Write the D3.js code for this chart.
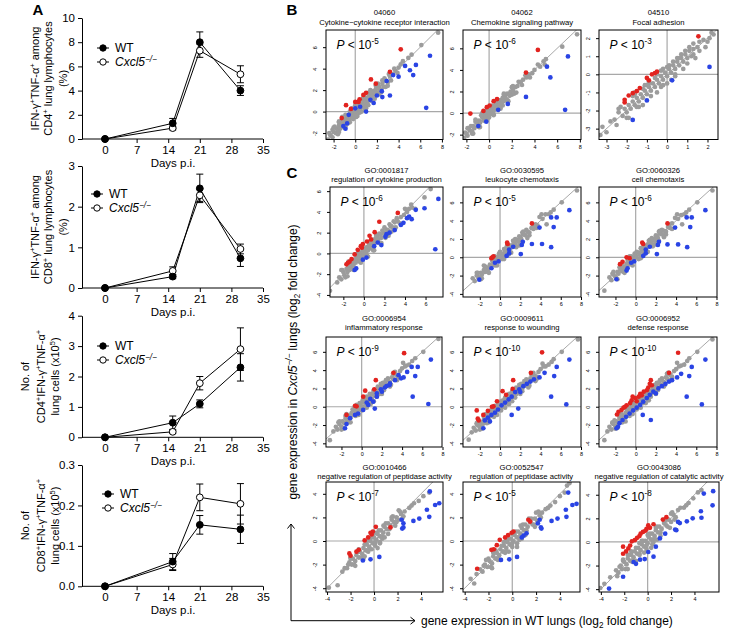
<!DOCTYPE html>
<html>
<head>
<meta charset="utf-8">
<script src="https://cdn.jsdelivr.net/npm/d3@7"></script>
<style>
  body { margin: 0; background: #fff; }
  svg { font-family: "Liberation Sans", Arial, sans-serif; }
</style>
</head>
<body>
<svg id="fig" width="734" height="632"></svg>
<script>
// ---------- panel A data (days p.i.) ----------
const days = [0, 15, 21, 30];
const xTicksA = [0, 7, 14, 21, 28, 35];

const cd4PctWT = [0, 1.3, 8.0, 4.0],      cd4PctWTErr = [0, 0.4, 0.85, 0.4];
const cd4PctKO = [0, 0.9, 7.3, 5.35],     cd4PctKOErr = [0, 0.15, 0.55, 0.7];
const cd8PctWT = [0, 0.28, 2.45, 0.73],   cd8PctWTErr = [0, 0.05, 0.35, 0.2];
const cd8PctKO = [0, 0.42, 2.28, 0.96],   cd8PctKOErr = [0, 0.1, 0.15, 0.12];
const cd4NumWT = [0, 0.48, 1.1, 2.3],     cd4NumWTErr = [0, 0.22, 0.13, 0.45];
const cd4NumKO = [0, 0.18, 1.78, 2.9],    cd4NumKOErr = [0, 0.05, 0.22, 0.7];
const cd8NumWT = [0, 0.061, 0.152, 0.141], cd8NumWTErr = [0, 0.02, 0.023, 0.035];
const cd8NumKO = [0, 0.054, 0.22, 0.204],  cd8NumKOErr = [0, 0.015, 0.033, 0.05];

// ---------- panel B/C data: [WT log2FC, Cxcl5-/- log2FC] ----------
const b1Gray = [[-2.5,-2.6],[-2.3,-2.2],[-2.1,-2.4],[-2.0,-1.9],[-1.8,-2.0],[-1.7,-1.6],[-1.6,-1.8],[-1.5,-1.3],[-1.4,-1.6],[-1.3,-1.1],[-1.2,-1.4],[-1.1,-0.9],[-1.0,-1.2],[-0.9,-0.7],[-0.8,-1.0],[-0.7,-0.5],[-0.6,-0.8],[-0.5,-0.3],[-0.4,-0.6],[-0.3,-0.1],[-0.2,-0.4],[-0.1,0.1],[0.0,-0.2],[0.1,0.3],[0.2,0.0],[0.3,0.5],[0.4,0.2],[0.5,0.7],[0.6,0.4],[0.7,0.9],[0.8,0.6],[0.9,1.1],[1.0,0.8],[1.1,1.3],[1.2,1.0],[1.3,1.5],[1.4,1.2],[1.5,1.7],[1.6,1.4],[1.7,1.9],[1.8,1.6],[1.9,2.1],[2.0,1.8],[2.2,2.3],[2.3,2.0],[2.5,2.6],[2.6,2.3],[2.8,2.9],[3.0,2.7],[3.2,3.3],[3.4,3.5],[3.7,3.8],[4.0,4.1],[4.2,4.4],[4.4,4.7],[4.9,5.0],[5.2,5.3],[6.1,6.2],[7.65,7.35],[-0.4,0.1],[0.6,1.0],[1.4,1.8],[2.1,2.6],[-1.5,-1.0],[0.2,-0.4],[1.0,0.5],[-2.1,-1.7],
  [-1.9,-1.4],[-1.6,-2.1],[-1.2,-0.7],[-0.9,-1.4],[-0.5,0.0],[-0.2,-0.7],[0.1,0.6],[0.4,-0.1],[0.7,1.2],[1.0,0.3],[1.3,1.8],[1.6,1.0],[1.9,2.4],[2.2,1.6],[2.5,2.9],[2.8,2.3],[3.1,3.5],[3.3,2.9],[3.6,4.0],[3.9,3.6],[-2.4,-2.0],[-0.7,-1.1],[0.5,0.0],[1.5,1.0],[2.4,2.0]];
const b1GrayEdge = [[-2.0,-1.5],[-1.5,-1.9],[-1.5,-0.9],[-1.0,-1.5],[-0.9,-0.3],[-0.5,-1.0],[-0.3,0.3],[0.1,-0.5],[0.3,0.8],[0.6,0.0],[0.8,1.4],[1.2,0.6],[1.4,2.0],[1.8,1.2],[2.0,2.5],[2.4,1.8],[2.7,3.1],[3.0,2.4],[-1.2,-0.5],[0.0,0.6],[0.9,0.2],[1.9,2.5]];
const b1Red = [[4.2,5.8],[3.2,3.7],[1.45,3.0],[1.9,2.6],[0.75,1.55],[0.0,0.9],[0.3,0.9],[-0.4,0.25],[-0.85,0.6],[-1.25,-0.6],[0.4,1.15],[1.0,1.75]];
const b1Blue = [[6.9,5.2],[5.6,4.35],[5.05,3.85],[4.6,4.25],[5.35,3.4],[4.0,3.25],[3.5,3.4],[2.9,2.85],[2.45,1.9],[2.0,1.5],[2.5,1.35],[3.2,1.5],[1.4,1.1],[1.7,0.8],[1.0,0.0],[0.45,0.45],[0.0,0.3],[-0.6,-0.3],[-0.9,-1.6],[-1.1,-1.35],[-0.75,-1.1],[6.55,0.35]];

const b2Gray = [[-2.2,-2.3],[-2.0,-1.9],[-1.9,-2.1],[-1.7,-1.6],[-1.5,-1.7],[-1.4,-1.2],[-1.3,-1.4],[-1.1,-0.9],[-1.0,-1.2],[-0.9,-0.7],[-0.8,-0.9],[-0.6,-0.4],[-0.5,-0.7],[-0.4,-0.2],[-0.3,-0.4],[-0.2,0.0],[-0.1,-0.3],[0.0,0.2],[0.1,-0.1],[0.2,0.4],[0.3,0.1],[0.4,0.6],[0.5,0.3],[0.6,0.8],[0.7,0.5],[0.8,1.0],[0.9,0.7],[1.0,1.2],[1.1,0.9],[1.2,1.4],[1.3,1.1],[1.4,1.6],[1.5,1.3],[1.6,1.8],[1.8,1.6],[1.9,2.0],[2.1,2.1],[2.3,2.4],[2.5,2.5],[2.8,2.9],[3.0,3.1],[3.3,3.3],[3.5,3.6],[3.8,3.7],[4.0,4.0],[4.3,4.5],[4.5,4.3],[4.9,4.5],[4.8,4.8],[5.0,5.0],[6.45,6.15],[7.75,7.3],[-0.7,-0.2],[0.3,0.7],[1.2,0.7],[2.0,1.7],[-1.6,-1.2],
  [-1.8,-1.4],[-1.5,-1.9],[-1.2,-0.8],[-0.9,-1.3],[-0.5,0.1],[-0.2,-0.6],[0.1,0.6],[0.4,-0.1],[0.7,1.1],[1.0,0.5],[1.3,1.7],[1.6,1.2],[2.0,2.4],[2.2,1.8],[2.6,2.9],[2.9,2.6],[3.2,3.5],[3.6,3.3],[-2.1,-1.8],[0.0,-0.4]];
const b2GrayEdge = [[-1.9,-1.4],[-1.4,-1.9],[-1.2,-0.6],[-0.8,-1.3],[-0.6,0.0],[-0.2,-0.7],[0.0,0.6],[0.4,-0.2],[0.6,1.1],[1.0,0.4],[1.3,1.8],[1.7,1.1],[2.1,2.5],[2.4,1.9],[-0.3,0.2],[0.8,0.3]];
const b2Red = [[4.3,5.85],[3.25,3.75],[0.7,1.3],[0.4,1.1],[0.05,0.7],[-0.2,0.55],[-1.65,-0.05],[-0.5,0.2]];
const b2Blue = [[6.95,5.25],[5.1,4.3],[5.4,3.3],[3.25,1.5],[1.65,0.85],[0.8,0.3],[6.7,0.3],[-0.25,-0.8],[-0.95,-1.2]];

const b3Gray = [[-3.3,-3.35],[-3.2,-2.9],[-3.0,-3.2],[-2.6,-2.5],[-2.4,-2.1],[-2.2,-2.3],[-2.1,-1.9],[-2.0,-2.1],[-1.9,-1.7],[-1.8,-1.9],[-1.7,-1.5],[-1.6,-1.7],[-1.5,-1.3],[-1.4,-1.5],[-1.3,-1.1],[-1.2,-1.3],[-1.1,-0.9],[-1.0,-1.1],[-0.9,-0.7],[-0.8,-0.9],[-0.7,-0.5],[-0.6,-0.7],[-0.5,-0.3],[-0.4,-0.5],[-0.3,-0.1],[-0.2,-0.3],[-0.1,0.1],[0.0,-0.1],[0.1,0.3],[0.2,0.1],[0.3,0.5],[0.4,0.3],[0.5,0.7],[0.6,0.5],[0.7,0.9],[0.8,0.7],[0.9,1.1],[1.0,0.9],[1.1,1.3],[1.2,1.0],[1.3,1.4],[1.5,1.5],[1.6,1.3],[1.8,1.9],[2.0,1.8],[2.2,2.3],[2.3,2.2],[-1.2,-0.8],[-0.6,-0.2],[0.0,0.4],[0.6,0.9],[-1.5,-1.8],[-0.3,-0.7],[0.4,-0.1],[-2.5,-2.8],[1.3,1.7],
  [-2.3,-1.8],[-2.0,-2.4],[-1.7,-1.2],[-1.4,-1.8],[-1.1,-0.6],[-0.8,-1.2],[-0.5,0.0],[-0.2,-0.6],[0.1,0.5],[0.4,0.0],[0.7,1.1],[1.0,0.6],[1.3,1.1],[1.6,1.8],[1.9,1.5],[-0.9,-0.5],[-0.3,0.2],[0.3,0.7],[0.9,1.3],[-1.6,-1.1],[-2.8,-2.6],[2.1,2.0]];
const b3GrayEdge = [[-2.4,-1.9],[-1.9,-2.4],[-1.6,-1.0],[-1.2,-1.7],[-0.9,-0.4],[-0.5,-1.0],[-0.2,0.3],[0.2,-0.3],[0.5,0.9],[0.8,0.3],[1.1,1.5],[1.4,0.9],[-1.0,-0.6],[0.0,-0.5]];
const b3Red = [[1.55,2.1],[-0.6,0.07],[-0.75,0.0],[-0.5,0.15],[-0.9,-0.33],[-1.0,-0.2],[-1.35,-0.76],[-1.5,-0.93],[-1.7,-1.04],[-1.9,-1.17],[-2.1,-1.41],[-2.1,-1.55]];
const b3Blue = [[2.1,0.41],[0.25,-0.33],[-1.0,-1.44],[-1.7,-2.52]];

const c1Gray = [[-3.3,-3.6],[-2.4,-2.3],[-2.2,-2.5],[-2.0,-1.8],[-1.9,-2.1],[-1.7,-1.5],[-1.6,-1.8],[-1.5,-1.3],[-1.4,-1.6],[-1.3,-1.1],[-1.2,-1.3],[-1.1,-0.8],[-1.0,-1.1],[-0.9,-0.6],[-0.8,-0.9],[-0.7,-0.4],[-0.6,-0.7],[-0.5,-0.2],[-0.4,-0.5],[-0.3,0.0],[-0.2,-0.3],[-0.1,0.2],[0.0,-0.1],[0.1,0.4],[0.2,0.1],[0.3,0.6],[0.4,0.3],[0.5,0.8],[0.6,0.5],[0.7,1.0],[0.8,0.7],[0.9,1.2],[1.0,0.9],[1.1,1.4],[1.2,1.1],[1.3,1.6],[1.4,1.3],[1.6,1.8],[1.7,1.5],[1.9,2.0],[2.0,1.8],[2.2,2.3],[2.4,2.2],[2.6,2.6],[2.8,2.5],[3.0,3.0],[3.3,3.1],[3.6,3.5],[3.9,3.7],[4.2,4.0],[4.4,4.3],[4.7,4.4],[5.0,4.3],[5.9,5.4],[6.5,6.2],[-0.5,0.2],[0.5,1.1],[1.5,1.9],[-1.5,-1.0],[0.9,0.4],
  [-2.1,-1.6],[-1.8,-2.3],[-1.4,-0.9],[-1.1,-1.5],[-0.7,-0.1],[-0.4,-0.8],[0.0,0.5],[0.3,-0.2],[0.6,1.1],[0.9,0.3],[1.2,1.7],[1.5,1.0],[1.8,2.2],[2.1,1.5],[2.5,2.8],[2.7,2.1],[3.2,3.4],[3.5,2.9],[4.0,4.3],[4.6,4.7],[-2.6,-2.8]];
const c1GrayEdge = [[-2.2,-1.6],[-1.6,-2.2],[-1.5,-0.8],[-1.0,-1.6],[-0.8,-0.1],[-0.3,-0.9],[-0.1,0.5],[0.4,-0.3],[0.5,1.1],[1.0,0.3],[1.2,1.8],[1.7,1.0],[2.0,2.5],[2.4,1.7],[2.9,3.1],[3.1,2.5]];
const c1Red = [[3.3,3.9],[1.5,3.05],[1.05,2.05],[0.55,1.7],[0.7,1.35],[0.3,1.15],[-0.1,0.9],[-0.3,0.7],[-0.6,0.35],[-0.2,0.55],[-0.9,-0.1],[-1.2,-0.55],[-1.4,-0.8],[-1.7,-1.05],[-1.55,-0.9]];
const c1Blue = [[7.25,5.25],[5.9,4.35],[5.05,4.2],[4.4,3.55],[4.65,3.3],[4.2,3.4],[3.85,2.95],[3.6,2.75],[3.0,2.25],[2.5,2.0],[2.2,1.85],[1.7,0.8],[1.35,1.05],[0.25,-0.4],[-0.1,-0.6],[-0.75,-1.45],[-0.9,-1.6],[6.95,0.4],[2.1,1.6],[1.0,0.7]];

const c2Gray = [[-2.7,-2.3],[-2.5,-2.6],[-2.3,-2.0],[-2.1,-2.2],[-1.9,-1.7],[-1.8,-1.9],[-1.6,-1.4],[-1.5,-1.6],[-1.3,-1.1],[-1.2,-1.3],[-1.0,-0.8],[-0.9,-1.0],[-0.7,-0.5],[-0.6,-0.7],[-0.4,-0.2],[-0.3,-0.4],[-0.1,0.1],[0.0,-0.1],[0.2,0.4],[0.3,0.2],[0.5,0.7],[0.6,0.5],[0.8,1.0],[0.9,0.8],[1.1,1.3],[1.2,1.1],[1.4,1.6],[1.5,1.4],[1.7,1.9],[1.8,1.7],[2.0,2.2],[2.1,2.0],[2.3,2.5],[2.5,2.4],[2.7,2.8],[2.9,2.7],[3.1,3.2],[3.3,3.1],[3.5,3.6],[3.7,3.5],[4.1,4.7],[4.5,4.7],[4.6,3.6],[4.8,4.7],[5.0,4.9],[6.1,6.0],[7.6,7.3],[-0.5,0.0],[0.4,0.9],[1.3,1.8],[2.2,2.7],[3.9,4.4],
  [-2.2,-1.7],[-1.9,-2.4],[-1.5,-1.0],[-1.2,-1.6],[-0.8,-0.3],[-0.5,-0.9],[-0.1,0.4],[0.2,-0.2],[0.6,1.0],[0.9,0.4],[1.3,1.8],[1.6,1.1],[1.9,2.3],[2.2,1.7],[2.6,3.0],[2.9,2.4],[3.3,3.5],[3.6,3.2],[4.2,4.2],[5.3,5.2]];
const c2GrayEdge = [[-2.3,-1.7],[-1.8,-2.3],[-1.6,-0.9],[-1.1,-1.7],[-0.8,-0.2],[-0.3,-0.9],[0.0,0.6],[0.4,-0.2],[0.7,1.3],[1.1,0.5],[1.5,2.0],[1.9,1.3],[2.3,2.8],[2.7,2.1],[-0.5,0.1],[0.8,0.3]];
const c2Red = [[3.15,3.7],[0.75,1.45],[0.7,1.6],[-0.75,0.0],[-0.85,-0.1],[-0.65,0.1]];
const c2Blue = [[6.85,5.15],[5.6,4.35],[5.05,4.35],[5.3,3.3],[3.9,3.25],[3.15,1.45],[4.15,1.45],[5.05,1.1],[2.15,1.35],[2.25,1.7],[1.3,1.15],[0.9,0.85],[2.05,0.35],[0.9,0.45],[0.65,0.15],[-0.15,-0.45],[-0.5,-0.6],[-0.85,-1.2],[-2.05,-2.45]];

const c3Gray = [[-3.1,-3.65],[-2.6,-2.2],[-2.4,-2.5],[-2.2,-1.9],[-2.0,-2.1],[-1.8,-1.6],[-1.7,-1.8],[-1.5,-1.3],[-1.4,-1.5],[-1.2,-1.0],[-1.1,-1.2],[-0.9,-0.7],[-0.8,-0.9],[-0.6,-0.4],[-0.5,-0.6],[-0.3,-0.1],[-0.2,-0.3],[0.0,0.2],[0.1,0.0],[0.3,0.5],[0.4,0.3],[0.6,0.8],[0.7,0.6],[0.9,1.1],[1.0,0.9],[1.2,1.4],[1.3,1.2],[1.5,1.7],[1.6,1.5],[1.8,2.0],[1.9,1.8],[2.1,2.3],[2.2,2.1],[2.4,2.6],[2.6,2.5],[2.8,2.9],[3.0,2.8],[3.2,3.3],[3.4,3.2],[3.6,3.7],[4.1,4.7],[4.5,4.6],[4.6,3.6],[4.8,4.7],[5.0,4.9],[6.1,6.0],[7.6,7.3],[-0.4,0.1],[0.5,1.0],[1.4,1.9],[2.3,2.8],[3.9,4.3],
  [-2.3,-1.8],[-1.9,-2.3],[-1.6,-1.1],[-1.2,-1.6],[-0.8,-0.3],[-0.4,-0.8],[-0.1,0.4],[0.3,-0.2],[0.6,1.0],[1.0,0.5],[1.3,1.8],[1.7,1.2],[2.0,2.4],[2.3,1.8],[2.6,3.0],[3.0,2.5],[3.3,3.6],[3.6,3.1],[4.2,4.2],[5.3,5.2]];
const c3GrayEdge = [[-2.2,-1.6],[-1.8,-2.4],[-1.5,-0.9],[-1.1,-1.7],[-0.7,-0.1],[-0.3,-0.9],[0.1,0.6],[0.5,-0.1],[0.8,1.3],[1.2,0.6],[1.6,2.1],[2.0,1.4],[2.4,2.9],[2.8,2.2],[-0.6,0.1],[0.9,0.4]];
const c3Red = [[3.15,3.7],[0.75,1.45],[0.65,1.6],[-0.9,0.0],[-0.6,-0.1],[-1.55,-0.75],[-1.3,-0.5]];
const c3Blue = [[6.9,5.15],[5.05,4.35],[5.55,4.35],[5.4,3.3],[3.9,3.25],[3.15,1.4],[4.2,1.4],[5.1,1.1],[2.2,1.35],[2.3,1.7],[1.4,1.15],[1.0,0.85],[2.1,0.35],[1.0,0.45],[0.75,0.15],[-0.15,-0.45],[-0.45,-0.6],[-0.8,-1.2],[-0.9,-1.45],[-1.9,-2.4]];

const c4Gray = [[-3.15,-3.65],[-2.55,-2.2],[-2.4,-2.5],[-2.2,-1.9],[-2.0,-2.2],[-1.9,-1.6],[-1.7,-1.8],[-1.6,-1.3],[-1.4,-1.5],[-1.3,-1.0],[-1.1,-1.2],[-1.0,-0.7],[-0.8,-0.9],[-0.7,-0.4],[-0.5,-0.6],[-0.4,-0.1],[-0.2,-0.3],[-0.1,0.2],[0.1,0.0],[0.2,0.5],[0.4,0.3],[0.5,0.8],[0.7,0.6],[0.8,1.1],[1.0,0.9],[1.1,1.4],[1.3,1.2],[1.4,1.7],[1.6,1.5],[1.7,2.0],[1.9,1.8],[2.0,2.3],[2.2,2.1],[2.3,2.6],[2.5,2.4],[2.6,2.9],[2.8,2.7],[3.0,3.2],[3.2,3.0],[3.4,3.5],[3.6,3.4],[3.8,3.9],[4.0,4.2],[4.1,4.8],[4.4,4.5],[4.7,4.6],[5.0,5.0],[6.1,6.0],[7.6,7.4],[-0.6,-0.1],[0.3,0.8],[1.2,1.7],[2.1,2.6],[3.1,3.6],[-1.5,-1.0],[0.0,-0.4],[0.9,0.5],[1.8,1.4],
  [-2.3,-1.7],[-2.0,-2.5],[-1.6,-1.0],[-1.3,-1.7],[-0.9,-0.3],[-0.6,-1.0],[-0.2,0.4],[0.1,-0.3],[0.5,1.1],[0.8,0.4],[1.2,1.8],[1.5,1.1],[1.9,2.5],[2.2,1.8],[2.6,3.1],[2.9,2.4],[3.3,3.8],[3.6,3.2],[4.3,4.4],[5.3,5.3],[-2.8,-2.7]];
const c4GrayEdge = [[-2.2,-1.6],[-1.8,-2.4],[-1.5,-0.8],[-1.1,-1.7],[-0.7,0.0],[-0.3,-0.9],[0.1,0.7],[0.5,-0.1],[0.8,1.4],[1.2,0.6],[1.6,2.2],[2.0,1.4],[2.4,2.9],[2.8,2.2],[3.2,3.7],[3.5,2.9],[-0.5,0.2],[0.9,0.3]];
const c4Red = [[4.2,5.85],[3.15,3.7],[1.4,2.9],[1.25,1.9],[0.35,1.75],[0.15,1.1],[-0.5,0.05],[-0.65,0.1],[-1.5,-0.9]];
const c4Blue = [[6.85,5.15],[5.55,4.35],[4.95,4.35],[5.3,3.35],[4.15,3.2],[3.65,3.45],[3.3,2.9],[2.75,2.35],[2.3,2.1],[2.0,1.65],[1.5,1.1],[1.15,0.55],[1.3,-0.2],[0.65,0.2],[0.15,-0.35],[-0.35,-0.75],[-0.65,-0.9],[-1.15,-1.25],[-1.5,-1.9],[-1.65,-2.35],[5.05,1.1],[6.6,0.3],[2.45,2.25],[2.8,2.55],[1.9,1.9],[1.5,1.45],[0.85,0.85],[0.5,0.45],[4.5,3.8],[3.9,3.1]];

const c5Gray = [[-3.1,-3.6],[-2.6,-2.3],[-2.4,-2.6],[-2.2,-2.0],[-2.0,-2.2],[-1.9,-1.7],[-1.7,-1.9],[-1.6,-1.4],[-1.4,-1.6],[-1.3,-1.1],[-1.1,-1.3],[-1.0,-0.8],[-0.8,-1.0],[-0.7,-0.5],[-0.5,-0.7],[-0.4,-0.2],[-0.2,-0.4],[-0.1,0.1],[0.1,-0.1],[0.2,0.4],[0.4,0.2],[0.5,0.7],[0.7,0.5],[0.8,1.0],[1.0,0.8],[1.1,1.3],[1.3,1.1],[1.4,1.6],[1.6,1.4],[1.7,1.9],[1.9,1.7],[2.0,2.2],[2.2,2.0],[2.3,2.5],[2.5,2.3],[2.6,2.8],[2.8,2.6],[3.0,3.1],[3.2,2.9],[3.4,3.4],[3.6,3.3],[3.8,3.8],[4.0,4.1],[4.2,4.7],[4.5,4.4],[4.8,4.6],[5.1,4.9],[6.1,6.0],[7.7,7.35],[-0.6,-0.1],[0.3,0.7],[1.2,1.6],[2.1,2.5],[3.1,3.5],[-1.5,-1.1],[-2.3,-1.9],
  [-2.3,-1.8],[-2.0,-2.5],[-1.6,-1.1],[-1.3,-1.8],[-0.9,-0.4],[-0.6,-1.1],[-0.2,0.3],[0.1,-0.4],[0.5,1.0],[0.8,0.3],[1.2,1.7],[1.5,1.0],[1.9,2.4],[2.2,1.7],[2.6,3.0],[2.9,2.3],[3.3,3.7],[3.6,3.0],[4.3,4.4],[5.3,5.2],[-2.8,-2.8]];
const c5GrayEdge = [[-2.2,-1.7],[-1.8,-2.4],[-1.4,-0.8],[-1.1,-1.7],[-0.7,-0.1],[-0.3,-0.9],[0.1,0.6],[0.5,-0.1],[0.9,1.4],[1.2,0.6],[1.6,2.1],[2.0,1.4],[2.4,2.8],[2.8,2.1],[3.2,3.6],[3.5,2.8],[-0.5,0.1],[0.9,0.3]];
const c5Red = [[4.15,5.95],[3.05,3.7],[1.3,2.9],[1.25,1.95],[0.25,1.7],[0.6,1.3],[-0.65,0.05],[-0.8,0.0],[-1.65,-0.9],[-1.2,-0.45],[-2.3,-0.4],[-2.2,-1.3],[-2.1,-1.5],[-0.3,0.6]];
const c5Blue = [[6.85,5.15],[5.6,4.35],[5.35,3.35],[5.05,1.1],[6.55,0.25],[3.9,3.2],[3.35,3.0],[3.0,2.75],[2.65,2.5],[2.3,2.25],[1.9,1.9],[1.5,1.6],[1.15,1.1],[0.85,0.8],[0.5,0.45],[0.15,0.15],[-0.2,-0.3],[-0.5,-0.65],[-0.85,-0.9],[-1.2,-1.2],[-1.5,-1.5],[1.15,-0.9],[1.8,-0.2],[-1.65,-2.35],[4.4,3.7],[2.0,1.6],[-1.0,-1.6]];

const c6Gray = [[-3.1,-3.65],[-2.6,-2.2],[-2.4,-2.5],[-2.2,-1.9],[-2.0,-2.1],[-1.9,-1.6],[-1.7,-1.8],[-1.6,-1.3],[-1.4,-1.5],[-1.3,-1.0],[-1.1,-1.2],[-1.0,-0.7],[-0.8,-0.9],[-0.7,-0.4],[-0.5,-0.6],[-0.4,-0.1],[-0.2,-0.3],[-0.1,0.2],[0.1,0.0],[0.2,0.5],[0.4,0.3],[0.5,0.8],[0.7,0.6],[0.8,1.1],[1.0,0.9],[1.1,1.4],[1.3,1.2],[1.4,1.7],[1.6,1.5],[1.7,2.0],[1.9,1.8],[2.0,2.3],[2.2,2.1],[2.3,2.6],[2.5,2.4],[2.6,2.9],[2.8,2.7],[3.0,3.2],[3.2,3.0],[3.4,3.5],[3.6,3.3],[3.8,3.9],[4.0,4.1],[4.1,4.8],[4.5,4.5],[4.8,4.6],[5.1,5.0],[6.1,6.0],[7.6,7.35],[-0.6,-0.1],[0.3,0.8],[1.2,1.7],[2.1,2.6],[3.1,3.6],[-1.5,-1.0],[-2.3,-1.8],
  [-2.3,-1.7],[-2.0,-2.4],[-1.6,-1.1],[-1.3,-1.7],[-0.9,-0.3],[-0.6,-1.0],[-0.2,0.4],[0.1,-0.3],[0.5,1.0],[0.8,0.4],[1.2,1.8],[1.5,1.1],[1.9,2.4],[2.2,1.8],[2.6,3.1],[2.9,2.4],[3.3,3.7],[3.6,3.1],[4.3,4.4],[5.3,5.3],[-2.8,-2.7]];
const c6GrayEdge = [[-2.1,-1.5],[-1.8,-2.3],[-1.4,-0.8],[-1.0,-1.6],[-0.6,0.0],[-0.3,-0.8],[0.1,0.7],[0.5,-0.1],[0.9,1.4],[1.3,0.7],[1.7,2.2],[2.0,1.4],[2.4,2.9],[2.8,2.2],[3.2,3.7],[3.5,2.9],[-0.4,0.2],[1.0,0.4]];
const c6Red = [[4.2,5.9],[3.3,3.7],[1.5,2.9],[1.4,2.5],[1.6,2.35],[1.25,2.1],[1.1,1.8],[0.8,1.65],[0.45,1.4],[0.3,1.1],[-0.05,0.95],[-0.4,0.7],[-0.55,0.4],[-0.9,0.15],[-1.05,0.0],[-1.4,-0.35],[-1.7,-0.55],[-1.85,-0.85],[-0.3,1.1],[0.6,1.25],[-1.2,-0.1],[0.1,0.6]];
const c6Blue = [[6.9,5.15],[5.55,4.35],[5.3,3.35],[5.05,1.1],[6.55,0.25],[4.1,3.2],[3.6,2.9],[3.3,2.75],[2.95,2.5],[2.6,2.25],[2.25,2.0],[1.75,1.65],[1.4,1.3],[1.1,0.95],[0.75,0.55],[0.45,0.2],[0.1,-0.1],[-0.25,-0.4],[0.7,-0.9],[1.5,-1.45],[-0.6,-0.75],[-0.95,-1.1],[-1.3,-1.45],[-1.6,-1.8],[-1.75,-2.2],[-1.9,-2.35],[2.0,1.45],[4.5,3.6]];

const c7Gray = [[-3.85,-3.95],[-3.1,-3.75],[-2.5,-2.3],[-2.3,-2.3],[-2.1,-1.8],[-1.9,-2.0],[-1.8,-1.5],[-1.6,-1.7],[-1.5,-1.2],[-1.3,-1.4],[-1.2,-0.9],[-1.0,-1.1],[-0.9,-0.6],[-0.7,-0.8],[-0.6,-0.3],[-0.4,-0.5],[-0.3,0.0],[-0.1,-0.2],[0.0,0.3],[0.2,0.1],[0.3,0.6],[0.5,0.4],[0.6,0.9],[0.8,0.7],[0.9,1.2],[1.1,1.0],[1.2,1.5],[1.4,1.3],[1.5,1.8],[1.7,1.6],[1.9,2.0],[2.1,1.8],[2.3,2.3],[2.5,2.1],[2.6,2.5],[3.0,2.8],[3.4,3.2],[3.8,3.4],[4.2,3.8],[4.7,4.1],[-0.5,-0.9],[0.1,-0.4],[0.5,-0.2],[-1.4,-0.9],[0.7,0.2],[-0.8,-1.3],
  [-2.2,-2.0],[-2.0,-1.5],[-1.7,-2.0],[-1.4,-0.9],[-1.1,-1.4],[-0.8,-0.3],[-0.5,-0.8],[-0.2,0.3],[0.1,-0.1],[0.4,0.9],[0.7,0.4],[1.0,1.5],[1.3,1.0],[1.6,2.1],[1.9,1.6],[2.2,2.5],[2.4,1.9],[-2.7,-2.6],[3.2,3.0],[0.3,-0.6]];
const c7GrayEdge = [[-2.0,-1.4],[-1.6,-2.1],[-1.3,-0.7],[-0.9,-1.5],[-0.6,0.0],[-0.2,-0.7],[0.1,0.7],[0.5,-0.1],[0.8,1.3],[1.2,0.6],[1.5,2.0],[1.8,1.3],[-0.4,0.2],[0.9,0.3],[2.1,2.6]];
const c7Red = [[0.15,1.2],[-0.1,0.8],[-0.3,0.7],[-0.5,0.3],[-0.8,0.05],[-1.3,-0.75],[-1.5,-0.9],[-2.0,-1.25],[-2.1,-1.05],[1.4,1.15],[-0.2,0.55]];
const c7Blue = [[4.75,4.2],[5.55,3.2],[5.2,3.05],[4.5,2.65],[4.7,2.05],[3.85,1.9],[3.35,1.7],[2.35,1.8],[2.5,1.5],[2.4,1.05],[2.5,1.15],[0.45,-1.35],[-0.3,-1.55],[-0.95,-1.65]];

const c8Gray = [[-3.5,-3.2],[-3.2,-3.6],[-2.7,-2.4],[-2.5,-2.6],[-2.3,-2.0],[-2.1,-2.2],[-1.9,-1.7],[-1.7,-1.9],[-1.6,-1.3],[-1.4,-1.5],[-1.3,-1.0],[-1.1,-1.2],[-1.0,-0.7],[-0.8,-0.9],[-0.7,-0.4],[-0.5,-0.6],[-0.4,-0.1],[-0.2,-0.3],[-0.1,0.2],[0.1,0.0],[0.2,0.5],[0.4,0.3],[0.5,0.8],[0.7,0.6],[0.8,1.1],[1.0,0.9],[1.1,1.4],[1.3,1.2],[1.5,1.6],[1.7,1.4],[1.9,1.9],[2.1,1.7],[2.3,2.2],[2.5,2.4],[2.8,2.7],[3.2,3.0],[3.6,3.3],[4.0,3.8],[4.4,4.1],[4.6,4.7],[4.8,4.9],[-0.6,-1.0],[0.0,-0.5],[0.6,0.1],[-1.6,-1.0],[-1.2,-1.6],
  [-2.4,-2.1],[-2.0,-1.5],[-1.8,-2.2],[-1.5,-1.0],[-1.2,-1.5],[-0.9,-0.4],[-0.6,-0.9],[-0.3,0.2],[0.0,-0.2],[0.3,0.8],[0.6,0.3],[0.9,1.4],[1.2,0.9],[1.6,1.9],[1.8,1.4],[2.2,2.5],[2.4,2.0],[-3.0,-2.8],[3.0,2.8],[0.4,-0.5]];
const c8GrayEdge = [[-2.2,-1.6],[-1.7,-2.3],[-1.4,-0.8],[-1.0,-1.6],[-0.7,-0.1],[-0.3,-0.9],[0.0,0.6],[0.4,-0.2],[0.7,1.3],[1.1,0.5],[1.4,1.9],[1.9,1.2],[-0.5,0.1],[0.8,0.2],[2.0,2.4]];
const c8Red = [[1.5,1.65],[1.35,1.8],[0.1,0.8],[-0.05,0.7],[-0.35,0.5],[-0.6,0.3],[-1.05,0.1],[-1.3,-0.35],[-1.55,-0.7],[-1.75,-0.75],[-2.95,-2.35]];
const c8Blue = [[4.7,4.1],[5.4,3.15],[5.05,3.05],[4.5,2.65],[4.55,2.05],[3.8,1.9],[3.3,1.7],[2.3,1.8],[2.45,1.05],[2.4,1.15],[2.15,1.5],[1.2,0.65],[0.95,0.45],[0.8,0.3],[0.4,-1.35],[-0.25,-1.55],[-0.95,-1.6]];

const c9Gray = [[-4.05,-3.9],[-3.7,-3.55],[-2.7,-2.4],[-2.5,-2.6],[-2.3,-2.0],[-2.2,-2.3],[-2.0,-1.7],[-1.8,-1.9],[-1.7,-1.4],[-1.5,-1.6],[-1.4,-1.1],[-1.2,-1.3],[-1.1,-0.8],[-0.9,-1.0],[-0.8,-0.5],[-0.6,-0.7],[-0.5,-0.2],[-0.3,-0.4],[-0.2,0.1],[0.0,-0.1],[0.1,0.4],[0.3,0.2],[0.4,0.7],[0.6,0.5],[0.7,1.0],[0.9,0.8],[1.0,1.3],[1.2,1.1],[1.4,1.6],[1.6,1.4],[1.8,1.9],[2.0,1.7],[2.2,2.3],[2.4,2.1],[2.6,2.7],[2.8,2.9],[3.1,2.9],[3.5,3.3],[3.9,3.7],[4.3,4.2],[4.6,4.4],[-0.7,-1.1],[-0.1,-0.6],[0.5,0.0],[-1.7,-1.1],[-1.3,-1.7],[-2.6,-2.9],
  [-2.4,-2.1],[-2.1,-1.6],[-1.9,-2.3],[-1.6,-1.1],[-1.3,-1.6],[-1.0,-0.5],[-0.7,-1.0],[-0.4,0.1],[-0.1,-0.3],[0.2,0.7],[0.5,0.2],[0.8,1.3],[1.1,0.8],[1.5,1.8],[1.7,1.3],[2.1,2.5],[2.3,1.9],[-3.2,-3.0],[3.3,3.1],[0.3,-0.5]];
const c9GrayEdge = [[-2.1,-1.5],[-1.7,-2.3],[-1.4,-0.8],[-1.0,-1.6],[-0.7,-0.1],[-0.3,-0.9],[0.0,0.6],[0.4,-0.2],[0.7,1.2],[1.1,0.5],[1.4,1.9],[1.9,1.2],[-0.5,0.1],[0.8,0.2],[2.0,2.4]];
const c9Red = [[1.6,2.1],[1.3,1.9],[0.05,1.4],[0.2,1.2],[-0.1,1.1],[-0.4,0.85],[-0.6,0.7],[-0.7,0.5],[-0.9,0.35],[-1.1,0.15],[-1.35,0.05],[-1.5,-0.3],[-1.65,-0.55],[-1.85,-0.8],[-2.1,-1.0],[-2.1,-0.4],[-0.2,0.95],[0.5,1.5]];
const c9Blue = [[4.8,4.1],[5.6,4.3],[5.55,3.1],[4.55,2.6],[4.6,2.05],[3.85,2.0],[3.35,1.75],[2.6,1.7],[2.75,1.6],[2.35,1.05],[2.45,1.0],[1.5,0.7],[1.05,0.3],[0.7,-0.4],[0.05,-0.85],[0.5,-1.25],[-0.25,-1.45],[-0.65,-1.5],[-1.0,-1.85],[-1.2,-1.7],[-2.1,-2.95],[-3.3,-3.95]];

// ---------- helpers ----------
const svg = d3.select("#fig");
const RED = "#e2231f", BLUE = "#2a44e4", GRAY = "#9c9c9c", LINE = "#a8a8a8";

// parts: "text" or [text, "sup"|"sub"|"i"|"isup"]
function rich(sel, parts, fs) {
  let shift = 0;
  parts.forEach(p => {
    const t = typeof p === "string" ? p : p[0];
    const k = typeof p === "string" ? "" : p[1];
    let target = 0;
    if (k.indexOf("sup") >= 0) target = -fs * 0.4;
    if (k.indexOf("sub") >= 0) target = fs * 0.25;
    const ts = sel.append("tspan").text(t).attr("dy", target - shift);
    shift = target;
    if (target !== 0) ts.attr("font-size", fs * 0.68);
    if (k.indexOf("i") === 0) ts.attr("font-style", "italic");
  });
}

// ---------- panel A ----------
const xA = d3.scaleLinear().domain([-5.1, 35]).range([82, 263]);

const aPanels = [
  { wt: cd4PctWT, wtE: cd4PctWTErr, ko: cd4PctKO, koE: cd4PctKOErr,
    yd: [0, 10], yr: [139, 18], yt: [0, 2, 4, 6, 8, 10], fmt: d3.format("d"),
    lab: [["IFN-γ", ["+", "sup"], "TNF-α", ["+", "sup"], " among"], ["CD4", ["+", "sup"], " lung lymphocytes"], ["(%)"]],
    labX: [39, 52, 67], leg: [103, 48] },
  { wt: cd8PctWT, wtE: cd8PctWTErr, ko: cd8PctKO, koE: cd8PctKOErr,
    yd: [0, 3], yr: [288, 166], yt: [0, 1, 2, 3], fmt: d3.format("d"),
    lab: [["IFN-γ", ["+", "sup"], "TNF-α", ["+", "sup"], " among"], ["CD8", ["+", "sup"], " lung lymphocytes"], ["(%)"]],
    labX: [39, 52, 67], leg: [97, 194] },
  { wt: cd4NumWT, wtE: cd4NumWTErr, ko: cd4NumKO, koE: cd4NumKOErr,
    yd: [0, 4], yr: [437.3, 315.7], yt: [0, 1, 2, 3, 4], fmt: d3.format("d"),
    lab: [["No. of"], ["CD4", ["+", "sup"], "IFN-γ", ["+", "sup"], "TNF-α", ["+", "sup"]], ["lung cells (x10", ["5", "sup"], ")"]],
    labX: [29, 45, 59], leg: [103, 346] },
  { wt: cd8NumWT, wtE: cd8NumWTErr, ko: cd8NumKO, koE: cd8NumKOErr,
    yd: [0, 0.3], yr: [586.3, 465], yt: [0, 0.1, 0.2, 0.3], fmt: d3.format(".1f"),
    lab: [["No. of"], ["CD8", ["+", "sup"], "IFN-γ", ["+", "sup"], "TNF-α", ["+", "sup"]], ["lung cells (x10", ["5", "sup"], ")"]],
    labX: [29, 45, 59], leg: [108, 494] }
];

aPanels.forEach(p => {
  const y = d3.scaleLinear().domain(p.yd).range(p.yr);
  const g = svg.append("g");
  const base = p.yr[0];

  g.append("g").attr("transform", `translate(0,${base})`)
    .call(d3.axisBottom(xA).tickValues(xTicksA).tickSize(4).tickPadding(3).tickSizeOuter(0))
    .call(a => a.select(".domain").attr("d", `M82,0H263`))
    .call(a => a.selectAll("text").attr("font-size", 11.5).attr("font-family", "Liberation Sans, Arial"));

  g.append("g").attr("transform", "translate(82,0)")
    .call(d3.axisLeft(y).tickValues(p.yt).tickFormat(p.fmt).tickSize(4).tickPadding(3).tickSizeOuter(0))
    .call(a => a.selectAll("text").attr("font-size", 11.5).attr("font-family", "Liberation Sans, Arial"));

  g.append("text").attr("x", 173).attr("y", base + 28).attr("text-anchor", "middle")
    .attr("font-size", 11.5).text("Days p.i.");

  const cy = (p.yr[0] + p.yr[1]) / 2;
  p.lab.forEach((parts, i) => {
    const t = g.append("text").attr("text-anchor", "middle").attr("font-size", 11)
      .attr("transform", `translate(${p.labX[i]},${cy}) rotate(-90)`);
    rich(t, parts, 11);
  });

  const series = [
    { v: p.ko, e: p.koE, fill: "#fff" },
    { v: p.wt, e: p.wtE, fill: "#000" }
  ];
  const line = d3.line().x((d, i) => xA(days[i])).y(d => y(d));
  series.forEach(s => {
    g.append("path").datum(s.v).attr("d", line).attr("fill", "none").attr("stroke", "#000").attr("stroke-width", 1);
    const eb = g.selectAll(null).data(s.v.map((v, i) => ({ v, e: s.e[i], d: days[i] })).filter(d => d.e > 0)).enter();
    eb.append("line").attr("x1", d => xA(d.d)).attr("x2", d => xA(d.d))
      .attr("y1", d => y(d.v - d.e)).attr("y2", d => y(d.v + d.e)).attr("stroke", "#000");
    [-1, 1].forEach(sg => {
      eb.append("line").attr("x1", d => xA(d.d) - 3.5).attr("x2", d => xA(d.d) + 3.5)
        .attr("y1", d => y(d.v + sg * d.e)).attr("y2", d => y(d.v + sg * d.e)).attr("stroke", "#000");
    });
  });
  series.forEach(s => {
    g.selectAll(null).data(s.v).enter().append("circle")
      .attr("cx", (d, i) => xA(days[i])).attr("cy", d => y(d)).attr("r", 3.4)
      .attr("fill", s.fill).attr("stroke", "#000").attr("stroke-width", 1);
  });

  // legend
  const [lx, ly] = p.leg;
  [["WT", "#000", 0], ["Cxcl5", "#fff", 14]].forEach(([name, fill, dy], k) => {
    g.append("line").attr("x1", lx - 6).attr("x2", lx + 6).attr("y1", ly + dy).attr("y2", ly + dy).attr("stroke", "#000");
    g.append("circle").attr("cx", lx).attr("cy", ly + dy).attr("r", 3.2).attr("fill", fill).attr("stroke", "#000");
    const t = g.append("text").attr("x", lx + 12).attr("y", ly + dy + 4.3).attr("font-size", 12);
    if (k === 0) t.text(name);
    else rich(t, [["Cxcl5", "i"], ["−/−", "isup"]], 12);
  });
});

svg.append("text").attr("x", 38).attr("y", 15).attr("text-anchor", "middle")
  .attr("font-size", 15).attr("font-weight", "bold").text("A");

// ---------- panels B and C ----------
const scatterPanels = [
  { id: "b1", box: [326, 30, 443, 139.5], xd: [-2.7, 8.1], yd: [-2.6, 7.6], xt: [-2, 0, 2, 4, 6, 8], yt: [-2, 0, 2, 4, 6],
    title: ["04060", "Cytokine−cytokine receptor interaction"], ty: 15, p: "-5", gray: b1Gray.concat(b1GrayEdge), red: b1Red, blue: b1Blue },
  { id: "b2", box: [463, 30, 581, 139.5], xd: [-2.3, 8.1], yd: [-2.45, 7.7], xt: [-2, 0, 2, 4, 6, 8], yt: [-2, 0, 2, 4, 6],
    title: ["04062", "Chemokine signaling pathway"], ty: 15, p: "-6", gray: b2Gray.concat(b2GrayEdge), red: b2Red, blue: b2Blue },
  { id: "b3", box: [599, 30, 718, 139.5], xd: [-3.37, 2.52], yd: [-3.6, 2.45], xt: [-3, -2, -1, 0, 1, 2], yt: [-3, -2, -1, 0, 1, 2],
    title: ["04510", "Focal adhesion"], ty: 15, p: "-3", gray: b3Gray.concat(b3GrayEdge), red: b3Red, blue: b3Blue },
  { id: "c1", box: [330, 187, 443, 297], xd: [-3.3, 7.7], yd: [-4.2, 6.4], xt: [-2, 0, 2, 4, 6], yt: [-4, -2, 0, 2, 4, 6],
    title: ["GO:0001817", "regulation of cytokine production"], ty: 172.5, p: "-6", gray: c1Gray.concat(c1GrayEdge), red: c1Red, blue: c1Blue },
  { id: "c2", box: [463, 187, 581, 297], xd: [-3.66, 8.0], yd: [-4.34, 7.68], xt: [-2, 0, 2, 4, 6, 8], yt: [-4, -2, 0, 2, 4, 6],
    title: ["GO:0030595", "leukocyte chemotaxis"], ty: 172.5, p: "-5", gray: c2Gray.concat(c2GrayEdge), red: c2Red, blue: c2Blue },
  { id: "c3", box: [599, 187, 717, 297], xd: [-3.63, 8.05], yd: [-4.34, 7.68], xt: [-2, 0, 2, 4, 6, 8], yt: [-4, -2, 0, 2, 4, 6],
    title: ["GO:0060326", "cell chemotaxis"], ty: 172.5, p: "-6", gray: c3Gray.concat(c3GrayEdge), red: c3Red, blue: c3Blue },
  { id: "c4", box: [326, 337, 442, 447], xd: [-3.53, 7.95], yd: [-4.4, 7.62], xt: [-2, 0, 2, 4, 6, 8], yt: [-4, -2, 0, 2, 4, 6],
    title: ["GO:0006954", "inflammatory response"], ty: 320.5, p: "-9", gray: c4Gray.concat(c4GrayEdge), red: c4Red, blue: c4Blue },
  { id: "c5", box: [463, 337, 581, 447], xd: [-3.66, 8.0], yd: [-4.4, 7.62], xt: [-2, 0, 2, 4, 6, 8], yt: [-4, -2, 0, 2, 4, 6],
    title: ["GO:0009611", "response to wounding"], ty: 320.5, p: "-10", gray: c5Gray.concat(c5GrayEdge), red: c5Red, blue: c5Blue },
  { id: "c6", box: [599, 337, 717, 447], xd: [-3.63, 8.05], yd: [-4.4, 7.62], xt: [-2, 0, 2, 4, 6, 8], yt: [-4, -2, 0, 2, 4, 6],
    title: ["GO:0006952", "defense response"], ty: 320.5, p: "-10", gray: c6Gray.concat(c6GrayEdge), red: c6Red, blue: c6Blue },
  { id: "c7", box: [326, 482, 443, 592], xd: [-4.09, 5.87], yd: [-4.32, 5.0], xt: [-4, -2, 0, 2, 4], yt: [-4, -2, 0, 2, 4],
    title: ["GO:0010466", "negative regulation of peptidase activity"], ty: 469.5, p: "-7", gray: c7Gray.concat(c7GrayEdge), red: c7Red, blue: c7Blue },
  { id: "c8", box: [463, 482, 580, 592], xd: [-4.14, 5.69], yd: [-4.32, 5.0], xt: [-4, -2, 0, 2, 4], yt: [-4, -2, 0, 2, 4],
    title: ["GO:0052547", "regulation of peptidase activity"], ty: 469.5, p: "-5", gray: c8Gray.concat(c8GrayEdge), red: c8Red, blue: c8Blue },
  { id: "c9", box: [599, 482, 719, 592], xd: [-4.16, 6.1], yd: [-4.24, 5.08], xt: [-4, -2, 0, 2, 4], yt: [-4, -2, 0, 2, 4],
    title: ["GO:0043086", "negative regulation of catalytic activity"], ty: 469.5, p: "-8", gray: c9Gray.concat(c9GrayEdge), red: c9Red, blue: c9Blue }
];

scatterPanels.forEach(p => {
  const [l, t, r, b] = p.box;
  const x = d3.scaleLinear().domain(p.xd).range([l, r]);
  const y = d3.scaleLinear().domain(p.yd).range([b, t]);
  const g = svg.append("g");

  g.append("clipPath").attr("id", "clip-" + p.id)
    .append("rect").attr("x", l).attr("y", t).attr("width", r - l).attr("height", b - t);
  const inner = g.append("g").attr("clip-path", `url(#clip-${p.id})`);

  inner.append("line").attr("x1", l).attr("x2", r).attr("y1", y(0)).attr("y2", y(0))
    .attr("stroke", LINE).attr("stroke-width", 1.2);
  inner.append("line").attr("x1", x(0)).attr("x2", x(0)).attr("y1", t).attr("y2", b)
    .attr("stroke", LINE).attr("stroke-width", 1.2);
  const lo = Math.min(p.xd[0], p.yd[0]) - 1, hi = Math.max(p.xd[1], p.yd[1]) + 1;
  inner.append("line").attr("x1", x(lo)).attr("y1", y(lo)).attr("x2", x(hi)).attr("y2", y(hi))
    .attr("stroke", LINE).attr("stroke-width", 1);

  [[p.gray, GRAY], [p.red, RED], [p.blue, BLUE]].forEach(([pts, col]) => {
    inner.selectAll(null).data(pts).enter().append("circle")
      .attr("cx", d => x(d[0])).attr("cy", d => y(d[1])).attr("r", 2.35).attr("fill", col);
  });

  g.append("rect").attr("x", l).attr("y", t).attr("width", r - l).attr("height", b - t)
    .attr("fill", "none").attr("stroke", "#000").attr("stroke-width", 1);

  g.append("g").attr("transform", `translate(0,${b})`)
    .call(d3.axisBottom(x).tickValues(p.xt).tickFormat(d => String(d)).tickSize(3).tickPadding(2.5).tickSizeOuter(0))
    .call(a => a.select(".domain").remove())
    .call(a => a.selectAll("text").attr("font-size", 5.5));

  g.append("g").attr("transform", `translate(${l},0)`)
    .call(d3.axisLeft(y).tickValues(p.yt).tickFormat(d => String(d)).tickSize(3).tickSizeOuter(0))
    .call(a => a.select(".domain").remove())
    .call(a => a.selectAll("text").attr("font-size", 5.5).attr("x", 0).attr("dy", 0)
      .attr("text-anchor", "middle").attr("transform", "translate(-9,0) rotate(-90)"));

  const cx = (l + r) / 2;
  g.append("text").attr("x", cx).attr("y", p.ty).attr("text-anchor", "middle").attr("font-size", 7.7).text(p.title[0]);
  g.append("text").attr("x", cx).attr("y", p.ty + 9.8).attr("text-anchor", "middle").attr("font-size", 7.7).text(p.title[1]);

  const pt = g.append("text").attr("x", l + 10.5).attr("y", t + 18.5).attr("font-size", 12);
  rich(pt, [["P", "i"], " < 10", [p.p, "sup"]], 12);
});

svg.append("text").attr("x", 292).attr("y", 15).attr("text-anchor", "middle")
  .attr("font-size", 15).attr("font-weight", "bold").text("B");
svg.append("text").attr("x", 292).attr("y", 178).attr("text-anchor", "middle")
  .attr("font-size", 15).attr("font-weight", "bold").text("C");

// shared axis labels with arrows
const ax = svg.append("g").attr("stroke", "#000").attr("fill", "none").attr("stroke-width", 1);
ax.append("path").attr("d", "M291,620.7V524M287.5,528.5L291,524L294.5,528.5");
ax.append("path").attr("d", "M291,620.7H415M410.5,617.2L415,620.7L410.5,624.2");

const xl = svg.append("text").attr("x", 421).attr("y", 625).attr("font-size", 12);
rich(xl, ["gene expression in WT lungs (log", ["2", "sub"], " fold change)"], 12);

const yl = svg.append("text").attr("text-anchor", "middle").attr("font-size", 12)
  .attr("transform", "translate(297,362) rotate(-90)");
rich(yl, ["gene expression in ", ["Cxcl5", "i"], ["−/−", "isup"], " lungs (log", ["2", "sub"], " fold change)"], 12);
</script>
</body>
</html>
